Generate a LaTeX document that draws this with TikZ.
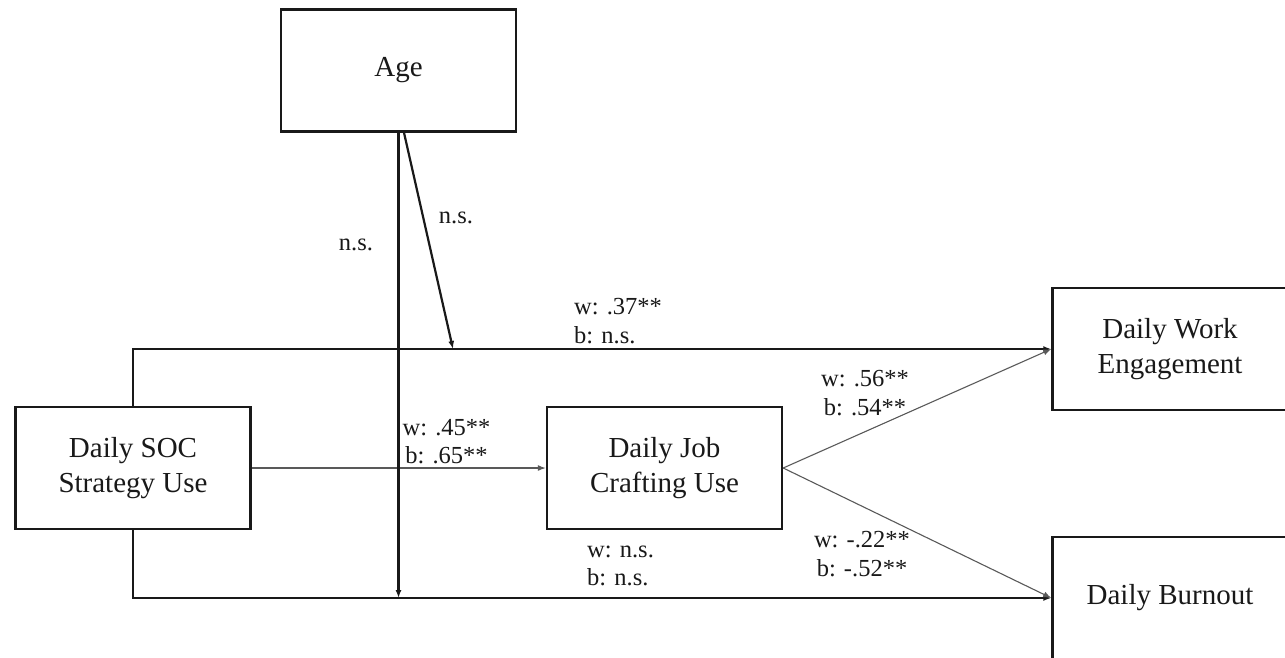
\documentclass[tikz,border=0pt]{standalone}
\usepackage{fontspec}
\setmainfont{Liberation Serif}
\usetikzlibrary{arrows.meta}
\begin{document}
\begin{tikzpicture}[x=1pt,y=-1pt,
  varbox/.style={draw=black!90, line width=2.4pt, minimum width=235pt,
    minimum height=122pt, inner sep=0pt, align=center, text=black!90,
    font=\fontsize{29}{35}\selectfont},
  lbl/.style={font=\fontsize{24.5}{28.5}\selectfont, inner sep=0pt, text=black!90},
  boldlink/.style={line width=2.2pt, draw=black!90},
  finelink/.style={line width=1.1pt, draw=black!65},
  tip/.style={-{Latex[length=8pt,width=6pt]}},
]
\useasboundingbox (0,0) rectangle (1285,657);
\clip (0,0) rectangle (1285,657);

% variables
\node[varbox] (age) at (398.5,70.5) {Age};
\node[varbox] (soc) at (133,468) {Daily SOC\\Strategy Use};
\node[varbox] (jc)  at (664.5,468) {Daily Job\\Crafting Use};
\node[varbox] (we)  at (1170,349) {Daily Work\\Engagement};
\node[varbox] (bo)  at (1170,598) {Daily Burnout};

% moderation point on the direct path to engagement
\coordinate (mod) at (453,349);

% direct effects of SOC strategy use
\draw[boldlink,tip] (soc.north) |- (we.west);
\draw[boldlink,tip] (soc.south) |- (bo.west);

% mediated paths
\draw[finelink,tip] (soc.east) -- (jc.west);
\draw[finelink,tip] (jc.east) -- (we.west);
\draw[finelink,tip] (jc.east) -- (bo.west);

% age paths
\draw[boldlink,tip] (age.south) -- (age.south |- bo.west);
\draw[boldlink,tip] ([xshift=5.5pt]age.south) -- (mod);

% coefficients
\node[lbl] (l1) at (356,245) {n.s.};
\node[lbl] (l2) at (456,218) {n.s.};
\node[lbl,anchor=west,align=left] (l3) at (574,321) {w: .37**\\b: n.s.};
\node[lbl,align=center] (l4) at (446.5,441.5) {w: .45**\\b: .65**};
\node[lbl,anchor=west,align=left] (l5) at (587,566) {w: n.s.\\b: n.s.};
\node[lbl,align=center] (l6) at (865,393) {w: .56**\\b: .54**};
\node[lbl,align=center] (l7) at (862,554) {w: -.22**\\b: -.52**};
\end{tikzpicture}
\end{document}
